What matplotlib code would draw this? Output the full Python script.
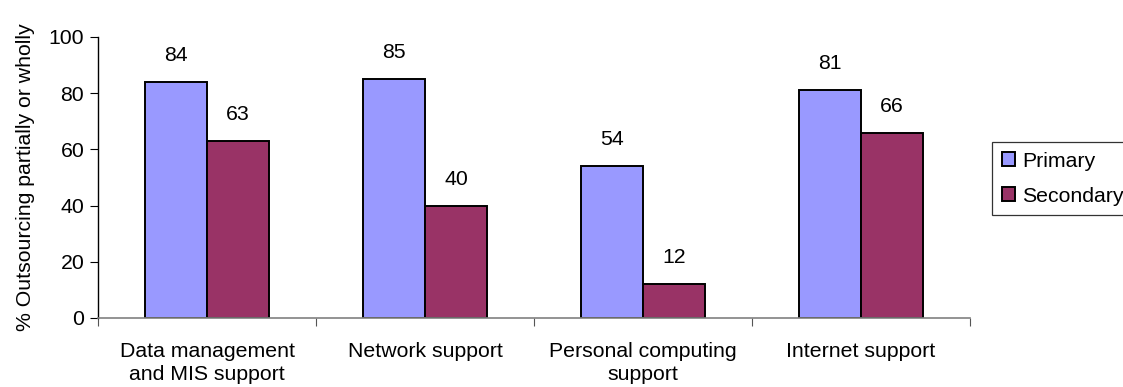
import matplotlib
matplotlib.use("Agg")
import matplotlib.pyplot as plt
import numpy as np

categories = ["Data management\nand MIS support", "Network support",
              "Personal computing\nsupport", "Internet support"]
primary = [84, 85, 54, 81]
secondary = [63, 40, 12, 66]
series_names = ["Primary", "Secondary"]
colors = ["#9999FF", "#993366"]

plt.rcParams["font.family"] = ["Liberation Sans", "DejaVu Sans"]
plt.rcParams["font.size"] = 15.3

fig = plt.figure(figsize=(11.23, 3.87), dpi=100)
ax = fig.add_axes([0.0873, 0.1783, 0.8637 - 0.0873, 0.9044 - 0.1783])

centers = np.arange(len(categories)) + 0.5
w = 0.285
b1 = ax.bar(centers - w / 2, primary, w, color=colors[0], edgecolor="black",
            linewidth=1.4, label=series_names[0])
b2 = ax.bar(centers + w / 2, secondary, w, color=colors[1], edgecolor="black",
            linewidth=1.4, label=series_names[1])

for bars, vals in ((b1, primary), (b2, secondary)):
    for r, v in zip(bars, vals):
        ax.annotate(f"{v}", (r.get_x() + r.get_width() / 2, v),
                    xytext=(0, 19), textcoords="offset points",
                    ha="center", va="center")

ax.set_xlim(0, len(categories))
ax.set_ylim(0, 100)
ax.set_yticks(range(0, 101, 20))
ax.set_xticks(np.arange(len(categories) + 1))
ax.set_xticklabels([])
ax.set_xticks(centers, minor=True)
ax.set_xticklabels(categories, minor=True, linespacing=1.3)
ax.tick_params(axis="x", which="minor", length=0, pad=17)
ax.tick_params(axis="x", which="major", length=6, direction="out", color="#555555")
ax.tick_params(axis="y", length=6, direction="out", pad=4)

ax.spines["top"].set_visible(False)
ax.spines["right"].set_visible(False)
ax.spines["bottom"].set_color("#808080")
ax.spines["bottom"].set_linewidth(1.2)
ax.spines["left"].set_linewidth(1.0)

ax.set_ylabel("% Outsourcing partially or wholly", labelpad=10)

leg = fig.legend(loc="upper left", bbox_to_anchor=(992 / 1123, 1 - 142 / 387),
                 frameon=True, fancybox=False, edgecolor="black",
                 handlelength=0.62, handleheight=0.62, handletextpad=0.33,
                 borderpad=0.45, labelspacing=0.75, borderaxespad=0)
leg.get_frame().set_linewidth(0.9)

fig.savefig("out.png", dpi=100)
